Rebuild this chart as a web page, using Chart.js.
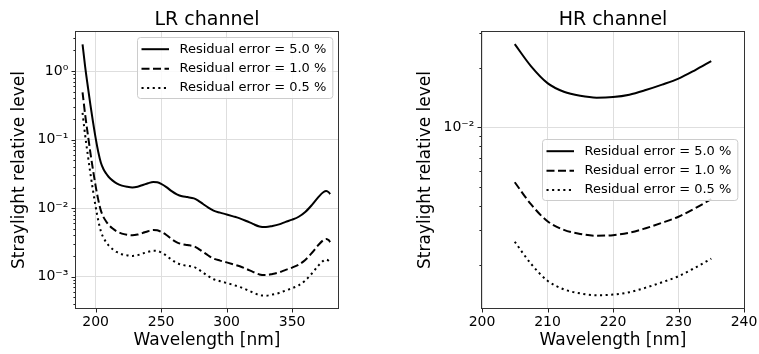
<!DOCTYPE html>
<html><head><meta charset="utf-8">
<script src="https://cdn.jsdelivr.net/npm/chart.js@4.4.1/dist/chart.umd.min.js"></script>
<style>
html,body{margin:0;padding:0;background:#fff;}
#wrap{position:relative;width:759px;height:354px;overflow:hidden;background:#fff;}
canvas{position:absolute;top:0;}
#lr{left:0;width:380px;height:354px;}
#hr{left:380px;width:379px;height:354px;}
</style></head><body>
<div id="wrap"><canvas id="lr" width="380" height="354"></canvas><canvas id="hr" width="379" height="354"></canvas></div>
<script>
// ---------------- data ----------------
const seriesLabels = ['Residual error = 5.0 %', 'Residual error = 1.0 %', 'Residual error = 0.5 %'];

const lrWavelength = [190,192,194,196,198,200,202,204,206,208,210,213,216,220,224,228,232,236,240,244,247,250,254,258,262,266,270,275,278,282,286,290,295,300,305,310,315,320,325,330,335,340,345,350,355,360,365,370,374,376,378,379];
const lrErr50 = [2.45,1.15,0.60,0.32,0.18,0.105,0.066,0.046,0.037,0.032,0.0285,0.0252,0.0230,0.0213,0.0205,0.0201,0.0206,0.0218,0.0231,0.0240,0.0238,0.0226,0.0203,0.0177,0.0159,0.0149,0.0145,0.0139,0.0130,0.0115,0.0102,0.0092,0.0086,0.0081,0.0076,0.0071,0.0065,0.0059,0.0054,0.0053,0.0055,0.0058,0.0063,0.0068,0.0075,0.0088,0.0111,0.0145,0.0172,0.0178,0.0170,0.0160];
const lrErr10 = [0.49,0.23,0.12,0.064,0.036,0.021,0.0132,0.0092,0.0074,0.0064,0.0057,0.00504,0.0046,0.00426,0.0041,0.00402,0.00412,0.00436,0.00462,0.0048,0.00476,0.00452,0.00406,0.00354,0.00318,0.00298,0.0029,0.00278,0.0026,0.0023,0.00204,0.00184,0.00172,0.00162,0.00152,0.00142,0.0013,0.00118,0.00108,0.00106,0.0011,0.00116,0.00126,0.00136,0.0015,0.00176,0.00222,0.0029,0.00344,0.00356,0.0034,0.0032];
const lrErr05 = [0.245,0.115,0.060,0.032,0.018,0.0105,0.0066,0.0046,0.0037,0.0032,0.00285,0.00252,0.0023,0.00213,0.00205,0.00201,0.00206,0.00218,0.00231,0.0024,0.00238,0.00226,0.00203,0.00177,0.00159,0.00149,0.00145,0.00139,0.0013,0.00115,0.00102,0.00092,0.00086,0.00081,0.00076,0.00071,0.00065,0.00059,0.00054,0.00053,0.00055,0.00058,0.00063,0.00068,0.00075,0.00088,0.00111,0.00145,0.00172,0.00178,0.0017,0.0016];

const hrWavelength = [205,207.5,210,212.5,215,217.5,220,222.5,225,227.5,230,232.5,235];
const hrErr50 = [0.0263,0.0203,0.0167,0.0151,0.0144,0.0141,0.0142,0.0146,0.0154,0.0164,0.0176,0.0194,0.0216];
const hrErr10 = [0.00526,0.00406,0.00334,0.00302,0.00288,0.00282,0.00284,0.00292,0.00308,0.00328,0.00352,0.00388,0.00432];
const hrErr05 = [0.00263,0.00203,0.00167,0.00151,0.00144,0.00141,0.00142,0.00146,0.00154,0.00164,0.00176,0.00194,0.00216];

const lrXTicks = [200, 250, 300, 350];
const hrXTicks = [200, 210, 220, 230, 240];
const lrYMajor = [0.001, 0.01, 0.1, 1];
const lrYLabels = ['10⁻³', '10⁻²', '10⁻¹', '10⁰'];
const hrYMajor = [0.01];
const hrYLabels = ['10⁻²'];
const lrYMinor = [0.0004,0.0005,0.0006,0.0007,0.0008,0.0009,0.002,0.003,0.004,0.005,0.006,0.007,0.008,0.009,0.02,0.03,0.04,0.05,0.06,0.07,0.08,0.09,0.2,0.3,0.4,0.5,0.6,0.7,0.8,0.9,2,3];
const hrYMinor = [0.002,0.003,0.004,0.005,0.006,0.007,0.008,0.009,0.02,0.03];

// ---------------- styling ----------------
const FONT = '"DejaVu Sans", sans-serif';
const DASHES = [[], [8, 3.5], [2.1, 3.5]];
const GRID = '#dedede';

const framePlugin = {
  id: 'frame',
  afterDatasetsDraw(chart, args, opts) {
    const {ctx, chartArea: a, scales} = chart;
    const xs = scales.x, ys = scales.y;
    ctx.save();
    // tick marks
    ctx.strokeStyle = '#222';
    ctx.lineWidth = 1;
    ctx.beginPath();
    ys.ticks.forEach(t => {
      const p = Math.round(ys.getPixelForValue(t.value)) + 0.5;
      if (p < a.top - 0.5 || p > a.bottom + 0.5) return;
      const len = opts.yMajor.includes(t.value) ? 4.5 : 2.6;
      ctx.moveTo(a.left - len, p); ctx.lineTo(a.left, p);
    });
    xs.ticks.forEach(t => {
      const p = Math.round(xs.getPixelForValue(t.value)) + 0.5;
      ctx.moveTo(p, a.bottom); ctx.lineTo(p, a.bottom + 4.5);
    });
    ctx.stroke();
    // spines
    ctx.strokeStyle = '#333';
    ctx.strokeRect(a.left - 0.5, a.top - 0.5, a.right - a.left + 1, a.bottom - a.top + 1);
    // legend
    ctx.font = '13px ' + FONT;
    const ds = chart.data.datasets;
    const tw = Math.max(...ds.map(d => ctx.measureText(d.label).width));
    const w = 42 + tw + 6.5, h = 61;
    const bx = Math.round(a.right - opts.legendRight - w) + 0.5;
    const by = Math.round(a.top + opts.legendTop) + 0.5;
    ctx.beginPath();
    if (ctx.roundRect) ctx.roundRect(bx, by, w, h, 3); else ctx.rect(bx, by, w, h);
    ctx.fillStyle = 'rgba(255,255,255,0.85)';
    ctx.fill();
    ctx.strokeStyle = '#cccccc';
    ctx.lineWidth = 1;
    ctx.stroke();
    const rows = [11.7, 31.2, 50.5];
    ds.forEach((d, i) => {
      const ry = by + rows[i];
      ctx.beginPath();
      ctx.setLineDash(d.borderDash || []);
      ctx.lineWidth = d.borderWidth;
      ctx.strokeStyle = d.borderColor;
      ctx.moveTo(bx + 4, ry); ctx.lineTo(bx + 31.5, ry);
      ctx.stroke();
      ctx.setLineDash([]);
      ctx.fillStyle = '#000';
      ctx.textBaseline = 'middle';
      ctx.textAlign = 'left';
      ctx.fillText(d.label, bx + 42, ry);
    });
    ctx.restore();
  }
};

function makeChart(id, cfg) {
  const yTicks = cfg.yMajor.concat(cfg.yMinor).sort((p, q) => p - q);
  return new Chart(document.getElementById(id), {
    type: 'line',
    data: {
      datasets: cfg.series.map((s, i) => ({
        label: seriesLabels[i],
        data: cfg.x.map((x, j) => ({x: x, y: s[j]})),
        borderColor: '#000', borderWidth: 2, borderDash: DASHES[i], borderCapStyle: 'butt',
        pointRadius: 0, pointHoverRadius: 0, fill: false, cubicInterpolationMode: 'monotone'
      }))
    },
    options: {
      responsive: false, animation: false, devicePixelRatio: 1,
      events: [],
      layout: {padding: {left: 0, right: cfg.padRight, top: 0, bottom: 0}},
      plugins: {
        legend: {display: false},
        tooltip: {enabled: false},
        title: {display: true, text: cfg.title, fullSize: false, color: '#000',
                font: {family: FONT, size: 19, weight: 'normal'}, padding: {top: 8.6, bottom: 0.6}},
        frame: {yMajor: cfg.yMajor, legendRight: cfg.legendRight, legendTop: cfg.legendTop}
      },
      scales: {
        x: {
          type: 'linear', min: cfg.xMin, max: cfg.xMax,
          afterBuildTicks: s => { s.ticks = cfg.xTicks.map(v => ({value: v})); },
          afterFit: s => { s.height = cfg.xH; s.paddingLeft = 0; s.paddingRight = 0; },
          ticks: {autoSkip: false, maxRotation: 0, minRotation: 0, padding: 5.7, color: '#000',
                  font: {family: FONT, size: 14}, callback: v => String(v)},
          grid: {drawTicks: false, color: GRID, lineWidth: 1},
          border: {display: false},
          title: {display: true, text: 'Wavelength [nm]', color: '#000',
                  font: {family: FONT, size: 17}, padding: {top: 0, bottom: 3.3}}
        },
        y: {
          type: 'logarithmic', min: cfg.yMin, max: cfg.yMax,
          afterBuildTicks: s => { s.ticks = yTicks.map(v => ({value: v})); },
          afterFit: s => { s.width = cfg.yW; s.paddingTop = 0; s.paddingBottom = 0; },
          ticks: {autoSkip: false, padding: 7.7, color: '#000', font: {family: FONT, size: 14},
                  callback: v => { const k = cfg.yMajor.indexOf(v); return k >= 0 ? cfg.yLabels[k] : ''; }},
          grid: {drawTicks: false, lineWidth: 1,
                 color: c => (c.tick && cfg.yMajor.includes(c.tick.value)) ? GRID : 'rgba(0,0,0,0)'},
          border: {display: false},
          title: {display: true, text: 'Straylight relative level', color: '#000',
                  font: {family: FONT, size: 17}, padding: {top: cfg.yTitlePad, bottom: 0}}
        }
      }
    },
    plugins: [framePlugin]
  });
}

makeChart('lr', {
  title: 'LR channel',
  x: lrWavelength, series: [lrErr50, lrErr10, lrErr05],
  xMin: 185, xMax: 385, xTicks: lrXTicks,
  yMin: 0.00035, yMax: 3.71, yMajor: lrYMajor, yLabels: lrYLabels, yMinor: lrYMinor,
  padRight: 42, yW: 76, xH: 46, yTitlePad: 9,
  legendRight: 5.3, legendTop: 5.3
});
makeChart('hr', {
  title: 'HR channel',
  x: hrWavelength, series: [hrErr50, hrErr10, hrErr05],
  xMin: 200, xMax: 240, xTicks: hrXTicks,
  yMin: 0.001215, yMax: 0.0303, yMajor: hrYMajor, yLabels: hrYLabels, yMinor: hrYMinor,
  padRight: 15, yW: 102, xH: 46, yTitlePad: 35.3,
  legendRight: 6.7, legendTop: 107.3
});
</script></body></html>
